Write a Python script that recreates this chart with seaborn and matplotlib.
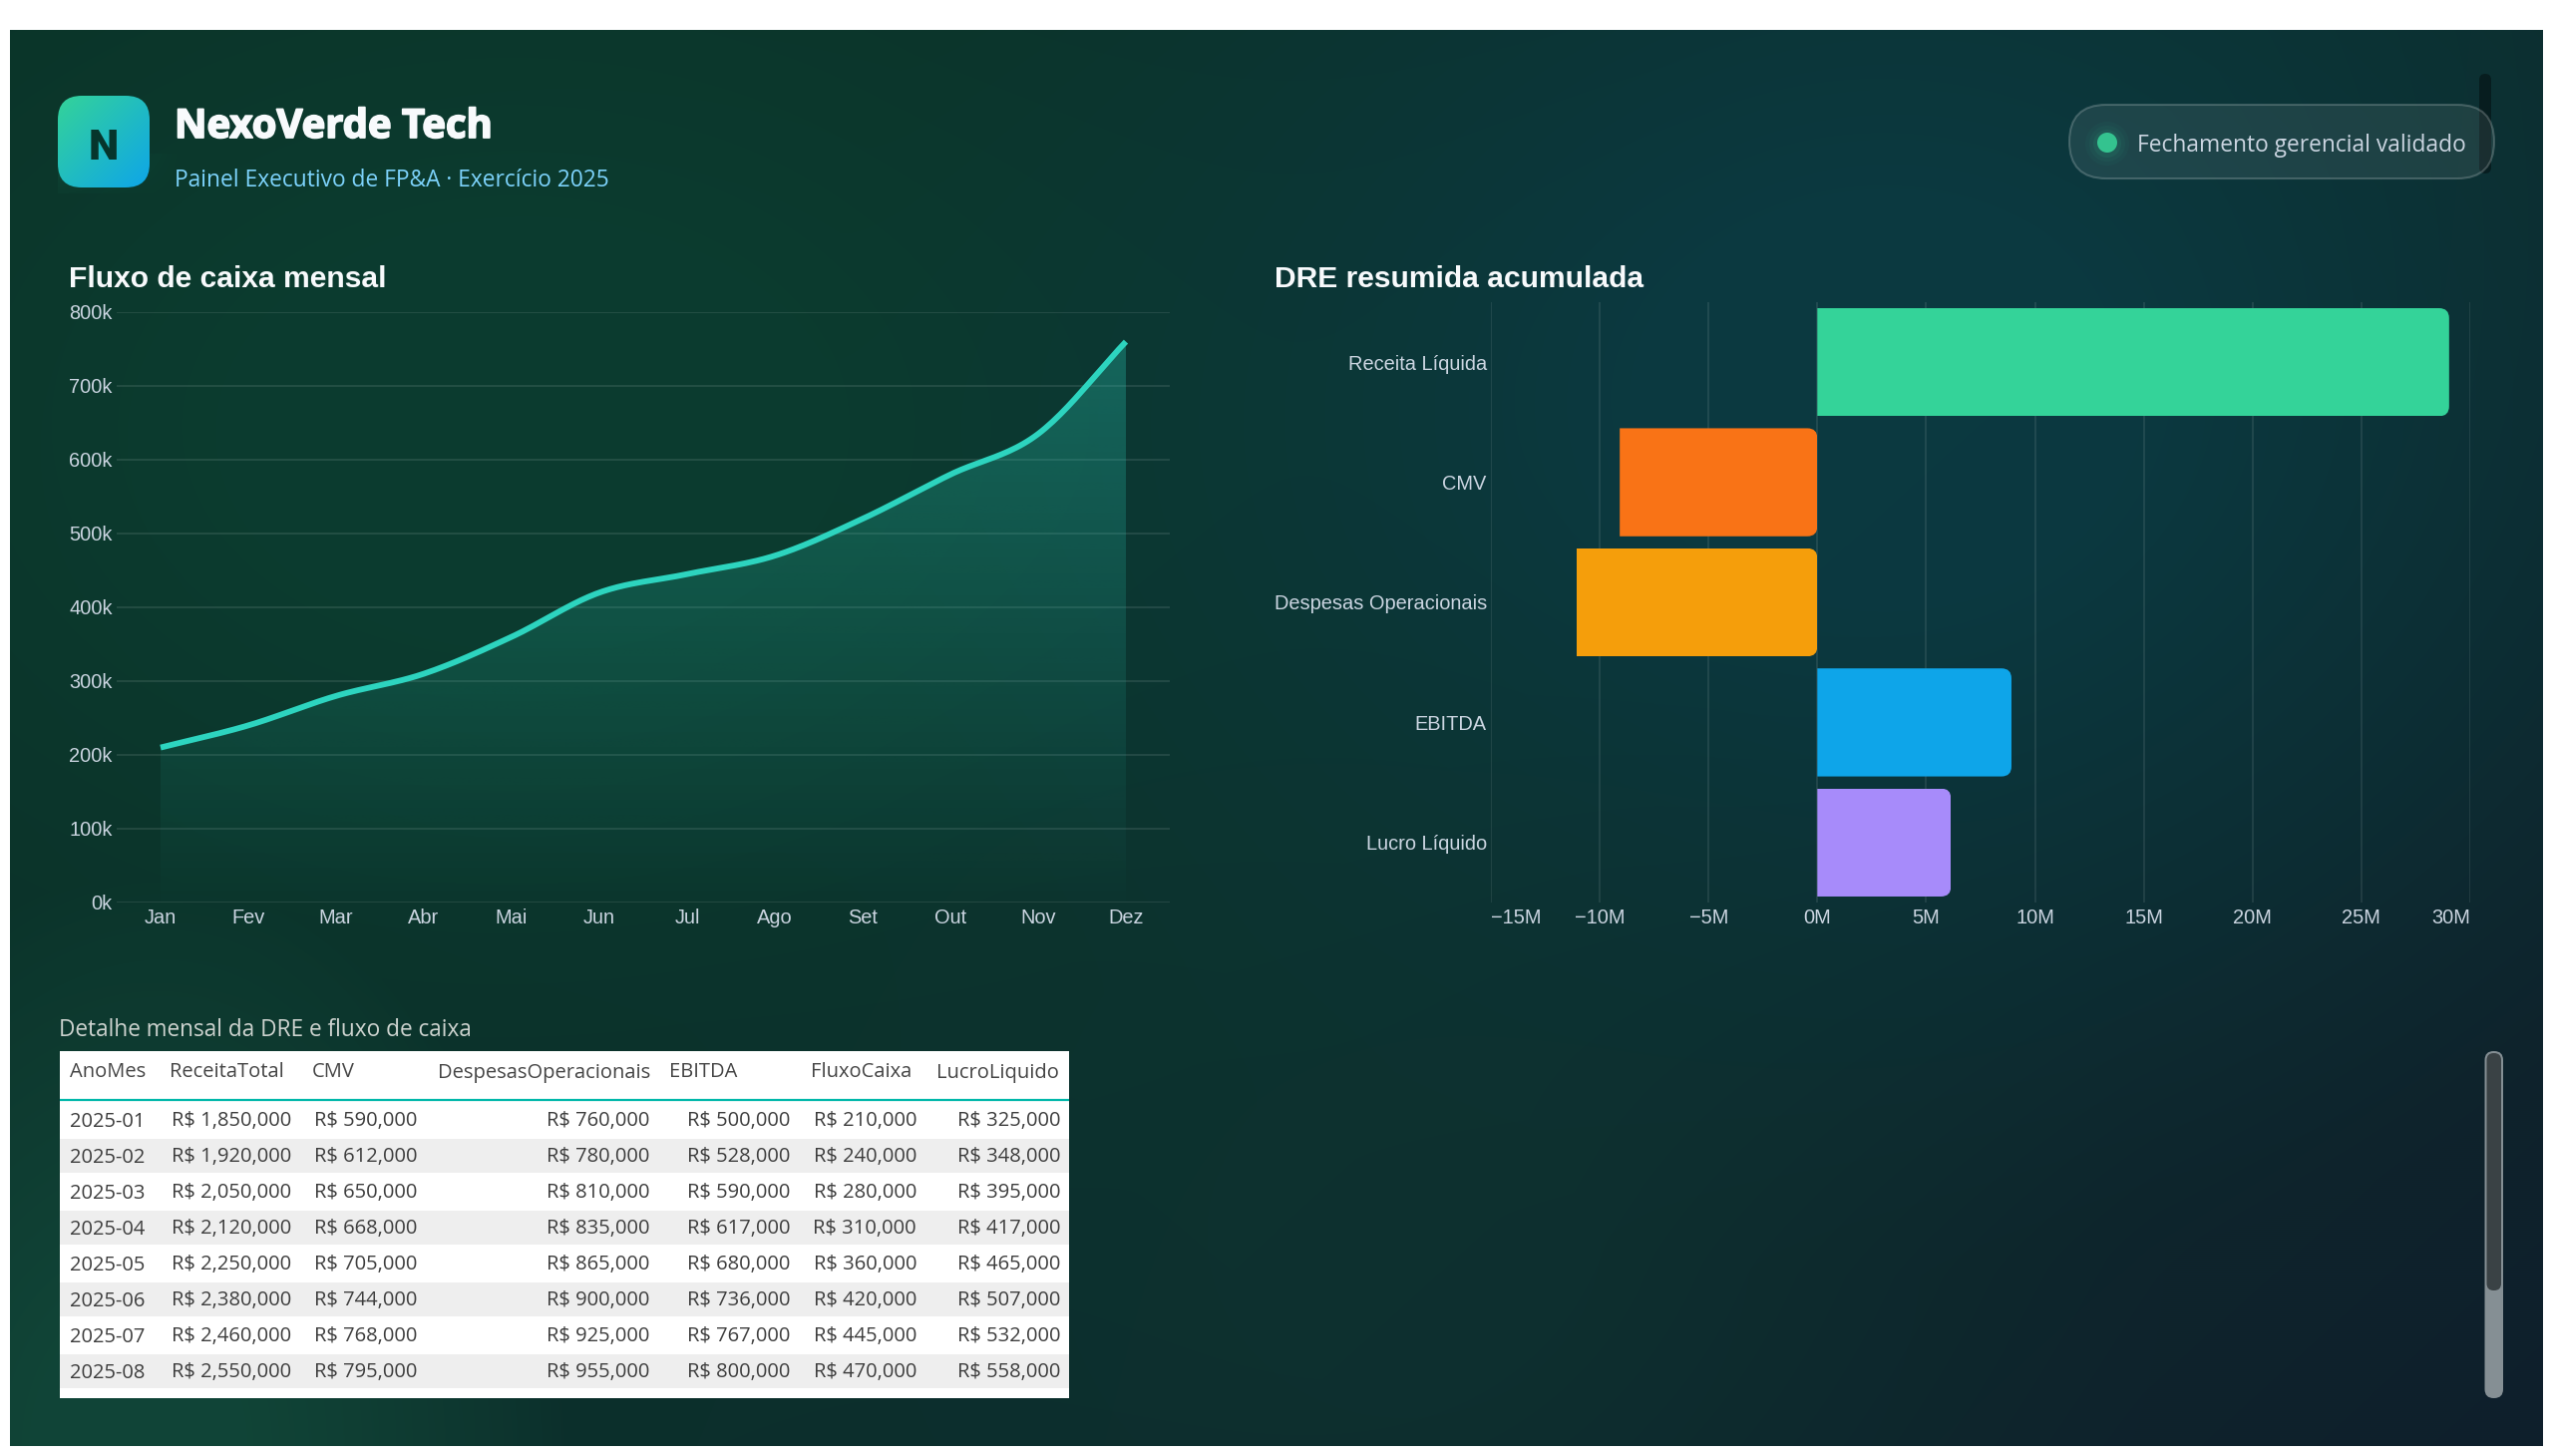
import numpy as np
import pandas as pd
import matplotlib
matplotlib.use("Agg")
import matplotlib.pyplot as plt
import matplotlib.patheffects as pe
from matplotlib.patches import FancyBboxPatch, Rectangle, Circle
from matplotlib.path import Path
from matplotlib.transforms import IdentityTransform
import seaborn as sns

# ---- data -------------------------------------------------------------
MESES = ["Jan", "Fev", "Mar", "Abr", "Mai", "Jun", "Jul", "Ago", "Set", "Out", "Nov", "Dez"]
FLUXO_MENSAL = [210, 240, 280, 310, 360, 420, 445, 470, 520, 580, 635, 760]
Y_TICKS = [0, 100, 200, 300, 400, 500, 600, 700, 800]

CONTAS = ["Receita Líquida", "CMV", "Despesas Operacionais", "EBITDA", "Lucro Líquido"]
VALORES_DRE = [29.03, -9.08, -11.07, 8.92, 6.14]
CORES_DRE = ["#34d399", "#f97316", "#f59e0b", "#0ea5e9", "#a78bfa"]
X_TICKS_DRE = [-15, -10, -5, 0, 5, 10, 15, 20, 25, 30]

COLUNAS = ["AnoMes", "ReceitaTotal", "CMV", "DespesasOperacionais", "EBITDA", "FluxoCaixa", "LucroLiquido"]
ANO_MES = ["2025-01", "2025-02", "2025-03", "2025-04", "2025-05", "2025-06", "2025-07", "2025-08", "2025-09"]
RECEITA = [1850, 1920, 2050, 2120, 2250, 2380, 2460, 2550, 2680]
CMV = [590, 612, 650, 668, 705, 744, 768, 795, 830]
DESPESAS = [760, 780, 810, 835, 865, 900, 925, 955, 985]
EBITDA = [500, 528, 590, 617, 680, 736, 767, 800, 865]
FLUXO = [210, 240, 280, 310, 360, 420, 445, 470, 520]
LUCRO = [325, 348, 395, 417, 465, 507, 532, 558, 600]

W, H = 2560, 1460
SANS = "Liberation Sans"
UI = "Open Sans"

sns.set_theme(style="dark", rc={"axes.facecolor": "none", "figure.facecolor": "white"})
fig = plt.figure(figsize=(W / 100, H / 100), dpi=100)


def px_axes(x0, y0, x1, y1, **kw):
    return fig.add_axes([x0 / W, 1 - y1 / H, (x1 - x0) / W, (y1 - y0) / H], **kw)


def hexrgb(c):
    return np.array(matplotlib.colors.to_rgb(c))


# ---- page background --------------------------------------------------
canvas = px_axes(0, 0, W, H)
canvas.axis("off")

PX0, PY0, PX1, PY1 = 10, 30, 2550, 1450
yy, xx = np.mgrid[PY0:PY1:2, PX0:PX1:2]
u = (xx - PX0) / (PX1 - PX0)
v = (yy - PY0) / (PY1 - PY0)


def glow(cx, cy, rx, ry):
    d = ((u - cx) / rx) ** 2 + ((v - cy) / ry) ** 2
    return np.clip(1 - np.sqrt(d), 0, 1)


t = np.clip(0.62 * u + 0.38 * v, 0, 1)[..., None]
stops = [hexrgb("#0a3025"), hexrgb("#0c2f2c"), hexrgb("#0f1f2c")]
bg = np.where(t < 0.55, stops[0] + (stops[1] - stops[0]) * t / 0.55,
              stops[1] + (stops[2] - stops[1]) * (t - 0.55) / 0.45)


def add_glow(img, colour, strength, cx, cy, rx, ry, power=1.3):
    a = (np.clip(glow(cx, cy, rx, ry) * 1.3, 0, 1) ** power * strength)[..., None]
    return img * (1 - a) + hexrgb(colour) * a


bg = add_glow(bg, "#0c3d30", 0.9, 0.2, 0.28, 0.5, 0.62)
bg = add_glow(bg, "#0b3b44", 0.85, 0.74, 0.26, 0.42, 0.62)
bg = add_glow(bg, "#0e3733", 0.45, 0.55, 0.85, 0.3, 0.5)
bg = add_glow(bg, "#114638", 0.95, 0.05, 1.0, 0.17, 0.4, power=0.8)
canvas.imshow(bg, extent=(PX0, PX1, PY1, PY0), aspect="auto", zorder=0, interpolation="bilinear")

# ---- header -----------------------------------------------------------
gy, gx = np.mgrid[0:92, 0:92]
grad_t = ((gx + gy) / 182.0)[..., None]
logo_img = hexrgb("#34d399") * (1 - grad_t) + hexrgb("#0ea5e9") * grad_t
halo = np.zeros((40, 130, 4))
halo[..., :3] = hexrgb("#34d399")
halo[..., 3] = 0.10 * np.clip(1 - np.linspace(0, 1, 130), 0, 1)[None, :] * np.linspace(1, 0.3, 40)[:, None]
canvas.imshow(halo, extent=(58, 188, 194, 154), aspect="auto", zorder=1)
logo = canvas.imshow(logo_img, extent=(58, 150, 188, 96), aspect="auto", zorder=2)
canvas.set_xlim(0, W)
canvas.set_ylim(H, 0)
logo_clip = FancyBboxPatch((58 + 24, 96 + 24), 44, 44, boxstyle="round,pad=24,rounding_size=24",
                           transform=canvas.transData, fc="none", ec="none")
canvas.add_patch(logo_clip)
logo.set_clip_path(logo_clip)
canvas.text(104, 144, "N", family="Roboto", weight="black", fontsize=31, color="#06352c",
            ha="center", va="center_baseline", zorder=3)
canvas.text(175, 123, "NexoVerde Tech", family=UI, weight="bold", fontsize=28.8, color="#f8fafc",
            ha="left", va="center_baseline", zorder=3,
            path_effects=[pe.withStroke(linewidth=1.3, foreground="#f8fafc")])
canvas.text(175, 178, "Painel Executivo de FP&A · Exercício 2025", family=UI, fontsize=16.4, color="#7dd3fc",
            ha="left", va="center_baseline", zorder=3)

# status pill and the small overlay scrollbar behind it
canvas.add_patch(FancyBboxPatch((2486, 74), 12, 100, boxstyle="round,pad=0,rounding_size=6",
                                fc=(0, 0, 0, 0.38), ec="none", zorder=2))
canvas.add_patch(FancyBboxPatch((2075, 105), 426, 74, boxstyle="round,pad=0,rounding_size=37",
                                fc=(1, 1, 1, 0.08), ec=(1, 1, 1, 0.2), lw=1.5, zorder=3))
for r, a in [(22, 0.04), (18, 0.05), (14, 0.08)]:
    canvas.add_patch(Circle((2113, 144), r, fc="#34d399", ec="none", alpha=a, zorder=3))
canvas.add_patch(Circle((2113, 143), 10, fc="#34c38f", ec="none", zorder=4))
canvas.text(2143, 143, "Fechamento gerencial validado", family=UI, fontsize=16.4, color="#cbd5e1",
            ha="left", va="center_baseline", zorder=4)

# ---- chart titles -----------------------------------------------------
canvas.text(69, 277, "Fluxo de caixa mensal", family=SANS, weight="bold", fontsize=21.6, color="#f8fafc",
            ha="left", va="center_baseline", zorder=3)
canvas.text(1278, 277, "DRE resumida acumulada", family=SANS, weight="bold", fontsize=21.6, color="#f8fafc",
            ha="left", va="center_baseline", zorder=3)


def style_axes(ax):
    for s in ax.spines.values():
        s.set_visible(False)
    ax.set_xlabel("")
    ax.set_ylabel("")
    ax.tick_params(length=0, labelcolor="#cbd5e1", labelsize=14.4)
    for lab in ax.get_xticklabels() + ax.get_yticklabels():
        lab.set_family(SANS)
    for lab in ax.get_yticklabels():
        lab.set_verticalalignment("center_baseline")


def catmull_rom(xs, ys, n=24):
    # smooth display curve passing through every monthly value
    p = np.r_[2 * ys[0] - ys[1], ys, 2 * ys[-1] - ys[-2]]
    out_x, out_y = [], []
    for i in range(len(ys) - 1):
        s = np.linspace(0, 1, n, endpoint=False)
        p0, p1, p2, p3 = p[i], p[i + 1], p[i + 2], p[i + 3]
        out_y.append(0.5 * (2 * p1 + (p2 - p0) * s + (2 * p0 - 5 * p1 + 4 * p2 - p3) * s ** 2
                            + (3 * p1 - p0 - 3 * p2 + p3) * s ** 3))
        out_x.append(xs[i] + s * (xs[i + 1] - xs[i]))
    return np.r_[np.concatenate(out_x), xs[-1]], np.r_[np.concatenate(out_y), ys[-1]]


# ---- monthly cash flow ------------------------------------------------
ax1 = px_axes(117, 313, 1173, 905)
pos = np.arange(len(MESES), dtype=float)
cx, cy = catmull_rom(pos, np.array(FLUXO_MENSAL, dtype=float))
curve = pd.DataFrame({"mes": cx, "fluxo": cy})
sns.lineplot(data=curve, x="mes", y="fluxo", color="#2dd4bf", linewidth=4.2, ax=ax1, zorder=3,
             solid_capstyle="butt", errorbar=None, estimator=None, sort=False)
ax1.set_xlim(-0.5, 11.5)
ax1.set_ylim(0, 800)
ax1.set_xticks(pos, MESES)
ax1.set_yticks(Y_TICKS, [f"{v}k" for v in Y_TICKS])
ax1.grid(axis="y", color=(1, 1, 1), alpha=0.1, lw=1.4)
ax1.grid(axis="x", visible=False)
ax1.set_axisbelow(True)
style_axes(ax1)
ax1.tick_params(axis="x", pad=4)
ax1.tick_params(axis="y", pad=3)

top = max(FLUXO_MENSAL)
fade = np.zeros((256, 2, 4))
fade[..., :3] = hexrgb("#2dd4bf")
fade[..., 3] = np.linspace(0.3, 0.01, 256)[:, None]
area = ax1.imshow(fade, extent=(pos[0], pos[-1], 0, top), aspect="auto", zorder=2)
poly = ax1.fill_between(cx, 0, cy, fc="none", ec="none")
area.set_clip_path(poly.get_paths()[0], ax1.transData)
ax1.set_xlim(-0.5, 11.5)
ax1.set_ylim(0, 800)

# ---- accumulated income statement -------------------------------------
ax2 = px_axes(1495, 303, 2477, 905)
dre = pd.DataFrame({"conta": CONTAS, "valor": VALORES_DRE})
sns.barplot(data=dre, x="valor", y="conta", hue="conta", palette=CORES_DRE, order=CONTAS, hue_order=CONTAS,
            orient="h", width=0.9, dodge=False, legend=False, ax=ax2, zorder=3, saturation=1, linewidth=0)
ax2.set_xlim(-15, 30)
ax2.set_ylim(4.5, -0.5)
ax2.set_xticks(X_TICKS_DRE, [f"{'−' if v < 0 else ''}{abs(v)}M" for v in X_TICKS_DRE])
ax2.grid(axis="x", color=(1, 1, 1), alpha=0.1, lw=1.2)
ax2.grid(axis="y", visible=False)
ax2.set_axisbelow(True)
style_axes(ax2)
ax2.tick_params(axis="x", pad=4)
ax2.tick_params(axis="y", pad=3)
ax2.get_xticklabels()[0].set_horizontalalignment("left")
ax2.get_xticklabels()[-1].set_horizontalalignment("right")

# round only the far end of each bar (the end lying on the right of the bar in both directions)
R = 10
for bar in ax2.patches:
    if bar.get_height() == 0:
        continue
    (xa, ya), (xb, yb) = ax2.transData.transform(
        [(bar.get_x(), bar.get_y()), (bar.get_x() + bar.get_width(), bar.get_y() + bar.get_height())])
    x_min, x_max = sorted((xa, xb))
    y_min, y_max = sorted((ya, yb))
    verts = [(x_min, y_min), (x_max - R, y_min), (x_max, y_min), (x_max, y_min + R), (x_max, y_max - R),
             (x_max, y_max), (x_max - R, y_max), (x_min, y_max), (x_min, y_min)]
    codes = [Path.MOVETO, Path.LINETO, Path.CURVE3, Path.CURVE3, Path.LINETO,
             Path.CURVE3, Path.CURVE3, Path.LINETO, Path.CLOSEPOLY]
    bar.set_clip_path(Path(verts, codes), IdentityTransform())

# ---- detail table -----------------------------------------------------
canvas.text(59, 1030, "Detalhe mensal da DRE e fluxo de caixa", family=UI, fontsize=16.3, color="#cdd3cf",
            ha="left", va="center_baseline", zorder=3)
TX0, TY0, TX1, TY1 = 60, 1054, 1072, 1402
table_clip = Rectangle((TX0, TY0), TX1 - TX0, TY1 - TY0, fc="white", ec="none", zorder=2)
canvas.add_patch(table_clip)
canvas.plot([TX0, TX1], [1103, 1103], color="#01b8aa", lw=1.6, zorder=4, solid_capstyle="butt")

HEAD_X = [70, 170.5, 313, 438.6, 671, 812.6, 939]
CELL_RIGHT = [292, 418.5, 651, 792.6, 919, 1063]
ROW0, ROW_H = 1122, 36
FS = 14.5
for name, hx in zip(COLUNAS, HEAD_X):
    canvas.text(hx, 1073, name, family=UI, fontsize=FS, color="#444444", ha="left", va="center_baseline", zorder=4)

money = [RECEITA, CMV, DESPESAS, EBITDA, FLUXO, LUCRO]
for i, ym in enumerate(ANO_MES):
    yc = ROW0 + i * ROW_H
    if i % 2 == 1:
        canvas.add_patch(Rectangle((TX0, yc - 16), TX1 - TX0, 33.5, fc="#eeeeee", ec="none", zorder=3))
    t0 = canvas.text(HEAD_X[0], yc, ym, family=UI, fontsize=FS, color="#3d3d3d", ha="left", va="center_baseline",
                     zorder=4, clip_on=True)
    t0.set_clip_path(table_clip)
    for col, xr in zip(money, CELL_RIGHT):
        label = f"R$ {col[i]},000" if col[i] < 1000 else f"R$ {col[i] // 1000},{col[i] % 1000:03d},000"
        tc = canvas.text(xr, yc, label, family=UI, fontsize=FS, color="#3d3d3d", ha="right", va="center_baseline",
                         zorder=4, clip_on=True)
        tc.set_clip_path(table_clip)

# vertical scrollbar beside the table
canvas.add_patch(FancyBboxPatch((2491.5, 1054), 18.5, 348, boxstyle="round,pad=0,rounding_size=9",
                                fc="#858f94", ec="none", zorder=3))
canvas.add_patch(FancyBboxPatch((2493.5, 1056), 14.5, 238, boxstyle="round,pad=0,rounding_size=7",
                                fc="#3a4245", ec="none", zorder=4))

fig.savefig("out.png", dpi=100, facecolor="white")
